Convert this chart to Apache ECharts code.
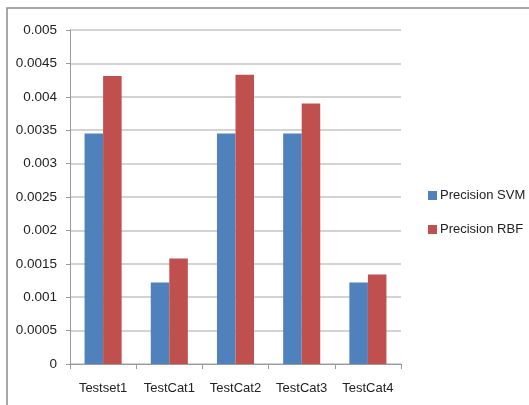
<!DOCTYPE html>
<html>
<head>
<meta charset="utf-8">
<script src="https://cdn.jsdelivr.net/npm/echarts@6/dist/echarts.min.js"></script>
<style>
html,body{margin:0;padding:0;background:#fff;}
#c{width:529px;height:405px;}
</style>
</head>
<body>
<div id="c"></div>
<script>
var categories = ['Testset1', 'TestCat1', 'TestCat2', 'TestCat3', 'TestCat4'];
var precisionSVM = [0.00345, 0.00122, 0.00345, 0.00345, 0.00122];
var precisionRBF = [0.00431, 0.00158, 0.00433, 0.00390, 0.00134];
var seriesNames = ['Precision SVM', 'Precision RBF'];

var FONT = '"Liberation Sans", Arial, sans-serif';
var chart = echarts.init(document.getElementById('c'), null, {renderer: 'canvas'});
chart.setOption({
  animation: false,
  backgroundColor: '#fff',
  graphic: [{
    type: 'rect',
    shape: {x: 7, y: 8, width: 600, height: 500},
    style: {fill: 'none', stroke: '#8c8c8c', lineWidth: 1.5},
    silent: true, z: -1
  }],
  grid: {left: 70, right: 128, top: 30, bottom: 41, containLabel: false},
  legend: {
    orient: 'vertical',
    left: 423,
    top: 184,
    itemWidth: 9,
    itemHeight: 9,
    itemGap: 21,
    icon: 'rect',
    textStyle: {fontFamily: FONT, fontSize: 13, color: '#222', padding: [0, 0, 0, -2]},
    data: seriesNames
  },
  xAxis: {
    type: 'category',
    data: categories,
    axisLine: {lineStyle: {color: '#9a9a9a', width: 1}},
    axisTick: {show: true, length: 5, lineStyle: {color: '#9a9a9a'}},
    axisLabel: {fontFamily: FONT, fontSize: 13, color: '#222', margin: 18, interval: 0},
    splitLine: {show: false}
  },
  yAxis: {
    type: 'value',
    min: 0,
    max: 0.005,
    interval: 0.0005,
    axisLine: {show: true, lineStyle: {color: '#9a9a9a', width: 1}},
    axisTick: {show: true, inside: false, length: 4, lineStyle: {color: '#9a9a9a'}},
    axisLabel: {
      fontFamily: FONT, fontSize: 13.5, color: '#222', margin: 13,
      formatter: function (v) { return v === 0 ? '0' : String(parseFloat(v.toFixed(4))); }
    },
    splitLine: {show: true, lineStyle: {color: '#c4c4c4', width: 1.5}}
  },
  series: [
    {name: seriesNames[0], type: 'bar', data: precisionSVM, barGap: '0%', barCategoryGap: '44%',
     itemStyle: {color: '#4F81BD'}},
    {name: seriesNames[1], type: 'bar', data: precisionRBF, barGap: '0%', barCategoryGap: '44%',
     itemStyle: {color: '#C0504D'}}
  ]
});
</script>
</body>
</html>
